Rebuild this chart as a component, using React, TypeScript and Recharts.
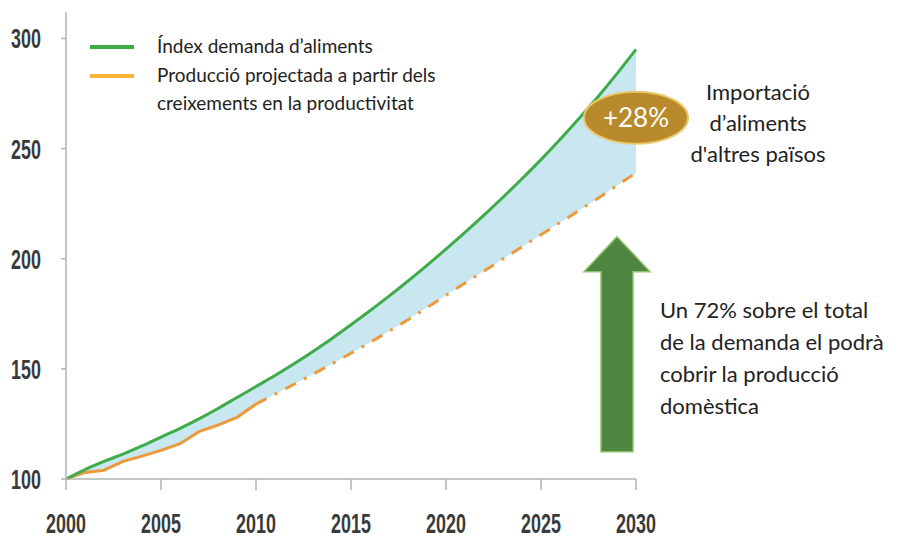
import React from 'react';
import { ComposedChart, Line, Area, XAxis, YAxis, ReferenceDot } from 'recharts';

const years = [2000, 2001, 2002, 2003, 2004, 2005, 2006, 2007, 2008, 2009, 2010, 2011, 2012, 2013, 2014, 2015,
    2016, 2017, 2018, 2019, 2020, 2021, 2022, 2023, 2024, 2025, 2026, 2027, 2028, 2029, 2030];
const demand = [100, 104.3, 108, 111.3, 115, 119, 123, 127.3, 132, 137, 142, 147, 152.3, 157.9, 163.8, 170,
    176.4, 183, 189.9, 197, 204.4, 212, 219.8, 227.9, 236.3, 245, 254.1, 263.6, 273.5, 284, 295];
const production = [100, 103, 104, 108, 110.4, 113, 116, 121.5, 124.5, 128, 134, 138.5, 143, 147.6, 152.3, 157.1,
    162, 167.1, 172.3, 177.8, 183.4, 189, 194.4, 199.9, 205.4, 210.9, 216.4, 221.9, 227.5, 233.2, 239];
const lastObservedYear = 2010;
const xTicks = [2000, 2005, 2010, 2015, 2020, 2025, 2030];
const yTicks = [100, 150, 200, 250, 300];

const GREEN = '#3fab4a';
const ORANGE = '#ee9a3c';
const LEGEND_ORANGE = '#f6b338';
const BAND = '#c8e7f0';
const AXIS = '#b3b3b3';
const TICK_FONT = '"Liberation Sans", Arial, sans-serif';
const TEXT_FONT = 'Lato, "Open Sans", sans-serif';

const data = years.map((year, i) => ({
    year,
    demand: demand[i],
    prod: production[i],
    prodHist: year <= lastObservedYear ? production[i] : null,
    prodProj: year >= lastObservedYear ? production[i] : null,
}));

const legendItems = [
    { color: GREEN, lines: ['Índex demanda d’aliments'] },
    { color: LEGEND_ORANGE, lines: ['Producció projectada a partir dels', 'creixements en la productivitat'] },
];

// condensed bold tick labels (squeezed horizontally)
const NarrowTick = (props: any) => {
    const { x, y, payload, textAnchor, axis } = props;
    const baseY = axis === 'x' ? y + 18 : y + 10;
    return (
        <g transform={`translate(${x},${baseY}) scale(0.64,1)`}>
            <text x={0} y={0} textAnchor={textAnchor} fill="#3a3a3a" fontSize={28} fontWeight="bold"
                fontFamily={TICK_FONT}>{payload.value}</text>
        </g>
    );
};

const Bubble = (props: any) => {
    const { cx, cy } = props;
    return (
        <g>
            <ellipse cx={cx} cy={cy} rx={52} ry={26} fill="#b88a2b" stroke="#ecc76a" strokeWidth={2} />
            <text x={cx} y={cy + 9} textAnchor="middle" fill="#fff" fontSize={26} fontFamily={TEXT_FONT}>+28%</text>
        </g>
    );
};

const UpArrow = (props: any) => {
    const { cx, cy } = props;
    const pts = [
        [0, 0], [33, 35], [16, 35], [16, 215], [-16, 215], [-16, 35], [-33, 35],
    ].map(([dx, dy]) => `${cx + dx},${cy + dy}`).join(' ');
    return <polygon points={pts} fill="#4e8541" stroke="#8cc36a" strokeWidth={1.5} />;
};

export default function App() {
    return (
        <div style={{ position: 'absolute', left: 0, top: 0, width: 903, height: 538, background: '#fff' }}>
            <ComposedChart width={903} height={538} data={data} margin={{ top: 12, right: 267, bottom: 0, left: 0 }}>
                <XAxis dataKey="year" type="number" domain={[2000, 2030]} ticks={xTicks}
                    stroke={AXIS} strokeWidth={1.5} tickSize={11} tickMargin={25} height={59}
                    tick={<NarrowTick axis="x" />} />
                <YAxis type="number" domain={[100, 312]} ticks={yTicks} width={66}
                    stroke={AXIS} strokeWidth={1.5} tickSize={5} tickMargin={20}
                    tick={<NarrowTick axis="y" />} />
                <Area dataKey={(d: any) => [d.prod, d.demand]} type="monotone" fill={BAND} fillOpacity={1}
                    stroke="none" isAnimationActive={false} />
                <Line dataKey="prodHist" type="linear" stroke={ORANGE} strokeWidth={3} dot={false}
                    isAnimationActive={false} />
                <Line dataKey="prodProj" type="monotone" stroke={ORANGE} strokeWidth={3} dot={false}
                    strokeDasharray="12 9 3 9" isAnimationActive={false} />
                <Line dataKey="demand" type="monotone" stroke={GREEN} strokeWidth={3} dot={false}
                    isAnimationActive={false} />
                <ReferenceDot x={2030} y={264} shape={<Bubble />} />
                <ReferenceDot x={2029} y={210} shape={<UpArrow />} />
            </ComposedChart>
            <div style={{ position: 'absolute', left: 90, top: 32, width: 400,
                fontFamily: TEXT_FONT, fontSize: 19, color: '#222', lineHeight: '28px' }}>
                {legendItems.map((item, i) => (
                    <div key={i} style={{ display: 'flex', alignItems: 'flex-start', marginBottom: 1 }}>
                        <div style={{ width: 44, height: 4, background: item.color, marginTop: 13, marginRight: 23 }} />
                        <div>
                            {item.lines.map((l, j) => <div key={j}>{l}</div>)}
                        </div>
                    </div>
                ))}
            </div>
            <div style={{ position: 'absolute', left: 680, top: 76, width: 156, textAlign: 'center',
                fontFamily: TEXT_FONT, fontSize: 22, lineHeight: '31px', color: '#222' }}>
                Importació<br />d’aliments<br />d'altres països
            </div>
            <div style={{ position: 'absolute', left: 660, top: 294, width: 240,
                fontFamily: TEXT_FONT, fontSize: 22, lineHeight: '32px', color: '#222' }}>
                Un 72% sobre el total<br />de la demanda el podrà<br />cobrir la producció<br />domèstica
            </div>
        </div>
    );
}
